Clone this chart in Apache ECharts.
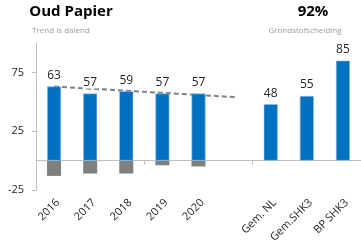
<!DOCTYPE html>
<html>
<head>
<meta charset="utf-8">
<script src="https://cdn.jsdelivr.net/npm/echarts@6/dist/echarts.min.js"></script>
<style>
  html, body { margin: 0; padding: 0; background: #fff; }
  #chart { width: 361px; height: 250px; }
</style>
</head>
<body>
<div id="chart"></div>
<script>
// categories (blank slot between the years and the comparisons)
var categories = ['2016', '2017', '2018', '2019', '2020', '', 'Gem. NL', 'Gem.SHK3', 'BP SHK3']
var mainValues = [63, 57, 59, 57, 57, '-', 48, 55, 85]
var negValues = [-13, -11, -11, -4, -5, '-', '-', '-', '-']
// trend line: start at 2016, ends at the blank slot
var trendPoints = [[0, 63], [5, 54]]
var yTicks = [-25, 25, 75]

var font = '"Open Sans", sans-serif'
var chart = echarts.init(document.getElementById('chart'))

chart.setOption({
  animation: false,
  textStyle: { fontFamily: font },
  graphic: [
    { type: 'text', x: 71, y: 4, style: { text: 'Oud Papier', font: 'bold 15px ' + font, fill: '#000', textAlign: 'center' } },
    { type: 'text', x: 61, y: 27, style: { text: 'Trend is dalend', font: '8px ' + font, fill: '#999', textAlign: 'center' } },
    { type: 'text', x: 313, y: 4, style: { text: '92%', font: 'bold 15px ' + font, fill: '#000', textAlign: 'center' } },
    { type: 'text', x: 305, y: 27, style: { text: 'Grondstofscheiding', font: '8px ' + font, fill: '#999', textAlign: 'center' } }
  ],
  grid: {
    left: 36,
    right: -7,
    top: 43,
    bottom: 60,
    containLabel: false
  },
  xAxis: [
    {
      type: 'category',
      data: categories,
      position: 'bottom',
      axisLine: { show: false, onZero: false },
      axisTick: { show: false },
      axisLabel: {
        rotate: 45,
        interval: 0,
        margin: 7,
        verticalAlign: 'top',
        fontSize: 11,
        color: '#262626'
      }
    },
    {
      type: 'category',
      data: categories,
      position: 'bottom',
      axisLine: { show: true, onZero: true, lineStyle: { color: '#bfbfbf', width: 1 } },
      axisTick: { show: true, length: 4, lineStyle: { color: '#bfbfbf' } },
      axisLabel: { show: false }
    }
  ],
  yAxis: {
    type: 'value',
    min: -25,
    max: 100,
    splitLine: { show: false },
    axisLine: { show: true, lineStyle: { color: '#bfbfbf' } },
    axisTick: { show: true, length: 4, customValues: yTicks, lineStyle: { color: '#bfbfbf' } },
    axisLabel: { customValues: yTicks, fontSize: 11, color: '#262626', margin: 12 }
  },
  series: [
    {
      name: 'trend',
      type: 'line',
      data: trendPoints,
      symbol: 'none',
      z: 1,
      lineStyle: { color: '#808080', width: 2, type: [5, 3] }
    },
    {
      name: 'waarde',
      type: 'bar',
      data: mainValues,
      barWidth: 14,
      barGap: '-100%',
      z: 3,
      itemStyle: { color: '#0070c0', borderColor: '#9dc3e6', borderWidth: 0.6 },
      label: {
        show: true,
        position: 'top',
        distance: 5,
        fontSize: 12,
        color: '#262626',
        backgroundColor: '#fff',
        padding: [0, 1]
      }
    },
    {
      name: 'verschil',
      type: 'bar',
      data: negValues,
      barWidth: 14,
      z: 2,
      itemStyle: { color: '#7f7f7f' }
    }
  ]
})
</script>
</body>
</html>
